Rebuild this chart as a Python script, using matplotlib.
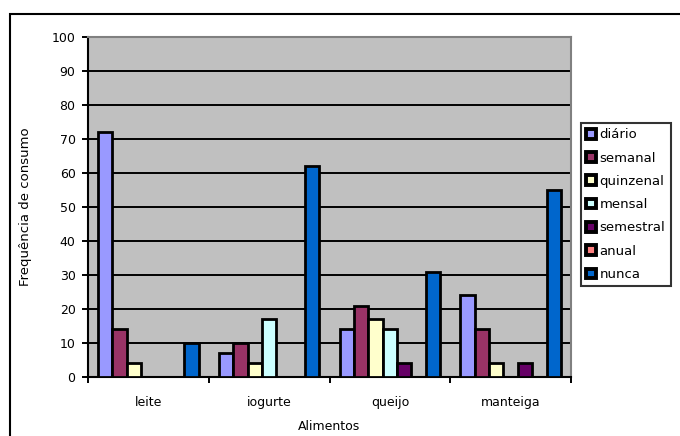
import numpy as np
import matplotlib.pyplot as plt
from matplotlib.patches import Rectangle

plt.rcParams['font.family'] = ['DejaVu Sans']

alimentos = ['leite', 'iogurte', 'queijo', 'manteiga']
series = ['diário', 'semanal', 'quinzenal', 'mensal', 'semestral', 'anual', 'nunca']
diario = [72, 7, 14, 24]
semanal = [14, 10, 21, 14]
quinzenal = [4, 4, 17, 4]
mensal = [0, 17, 14, 0]
semestral = [0, 0, 4, 4]
anual = [0, 0, 0, 0]
nunca = [10, 62, 31, 55]
cores = ['#9999FF', '#993366', '#FFFFCC', '#CCFFFF', '#660066', '#FF8080', '#0066CC']

valores = [diario, semanal, quinzenal, mensal, semestral, anual, nunca]

fig = plt.figure(figsize=(6.8, 4.36), dpi=100)
# moldura do gráfico
fig.patches.append(Rectangle((10 / 680, -0.1), 1.2, 1 - 14 / 436 + 0.1,
                             transform=fig.transFigure, fill=False,
                             edgecolor='black', linewidth=1.5))

ax = fig.add_axes([88 / 680, 1 - 377 / 436, (571 - 88) / 680, 340 / 436])
ax.set_facecolor('#C0C0C0')

x = np.arange(len(alimentos))
w = 0.119
for i, (nome, v, c) in enumerate(zip(series, valores, cores)):
    ax.bar(x + (i - 3) * w, v, width=w, color=c, edgecolor='black',
           linewidth=2.0, label=nome, zorder=3)

ax.set_xlim(-0.5, len(alimentos) - 0.5)
ax.set_ylim(0, 100)
ax.set_yticks(range(0, 101, 10))
ax.yaxis.grid(True, color='black', linewidth=1.4, zorder=1)
ax.set_axisbelow(True)

ax.set_xticks(x)
ax.set_xticklabels(alimentos)
ax.set_xticks(np.arange(-0.5, len(alimentos), 1), minor=True)
ax.tick_params(axis='x', which='major', length=0, pad=14, labelsize=9)
ax.tick_params(axis='x', which='minor', length=4.5, width=1.4, direction='out')
ax.tick_params(axis='y', length=4.5, width=1.4, pad=4.5, labelsize=9)

for s in ['left', 'bottom']:
    ax.spines[s].set_color('black')
    ax.spines[s].set_linewidth(1.5)
for s in ['top', 'right']:
    ax.spines[s].set_color('#808080')
    ax.spines[s].set_linewidth(1.5)

ax.set_ylabel('Frequência de consumo', fontsize=9.5)
ax.yaxis.set_label_coords(-0.116, 0.5)
ax.set_xlabel('Alimentos', fontsize=9)
ax.xaxis.set_label_coords(0.5, -0.125)

leg = fig.legend(loc='upper left', bbox_to_anchor=(581 / 680, 1 - 123 / 436),
                 fontsize=9.5, frameon=True, fancybox=False, handlelength=0.75,
                 handleheight=0.75, handletextpad=0.25, labelspacing=0.78,
                 borderpad=0.4, borderaxespad=0)
leg.get_frame().set_edgecolor('black')
leg.get_frame().set_linewidth(1.5)
for h in leg.legend_handles:
    h.set_linewidth(2.8)

fig.savefig('out.png', dpi=100)
